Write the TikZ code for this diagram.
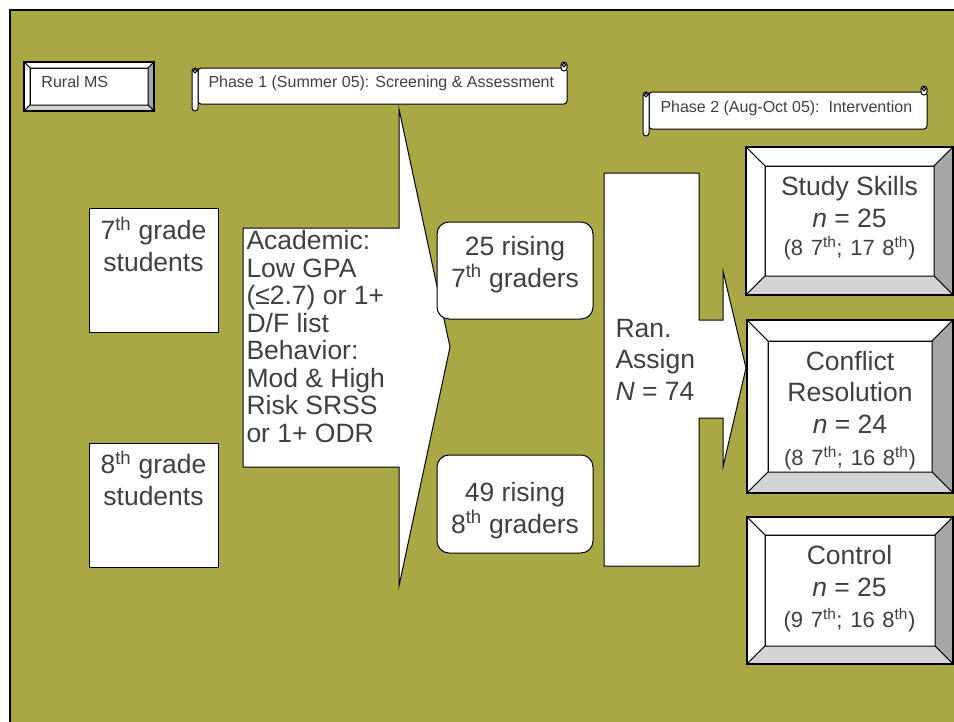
\documentclass[tikz,border=0pt]{standalone}
\usepackage{fontspec}
\setmainfont{Liberation Sans}
\usepackage{tikz}

\definecolor{olivebg}{RGB}{170,168,68}
\definecolor{txtgray}{RGB}{64,64,64}
\definecolor{bevelright}{RGB}{166,166,166}
\definecolor{bevelbottom}{RGB}{212,212,212}

\newcommand{\ordsup}[1]{\textsuperscript{#1}}
\newcommand{\wsp}{\hspace{0.35em}}

% bevel box: x1,y1 (top left), x2,y2 (bottom right), bevel width
\newcommand{\bevelbox}[5]{
  \draw[fill=white] (#1+#5,#2+#5) rectangle (#3-#5,#4-#5);
  \draw[fill=white] (#1,#2) -- (#3,#2) -- (#3-#5,#2+#5) -- (#1+#5,#2+#5) -- cycle;
  \draw[fill=white] (#1,#2) -- (#1+#5,#2+#5) -- (#1+#5,#4-#5) -- (#1,#4) -- cycle;
  \draw[fill=bevelright] (#3,#2) -- (#3,#4) -- (#3-#5,#4-#5) -- (#3-#5,#2+#5) -- cycle;
  \draw[fill=bevelbottom] (#1,#4) -- (#3,#4) -- (#3-#5,#4-#5) -- (#1+#5,#4-#5) -- cycle;
  \draw[line width=1.3pt] (#1,#2) rectangle (#3,#4);
}

% horizontal scroll: x1,y1 (top left), x2,y2 (bottom right of body)
\newcommand{\hscroll}[4]{
  \draw[fill=white,rounded corners=3] (#1+6,#2) rectangle (#3,#4);
  \draw[fill=white,rounded corners=3] (#3-6,#2-6) rectangle (#3,#2+3);
  \draw (#3-3,#2-3) circle (1.8);
  \draw[fill=white,rounded corners=3] (#1,#2) rectangle (#1+6,#4+7);
  \draw (#1+3,#2+3) circle (1.8);
}

\tikzset{
  bigtext/.style={text=txtgray,font=\fontsize{26.5}{31.5}\selectfont,inner sep=0pt},
  smalltext/.style={text=txtgray,font=\fontsize{16}{19}\selectfont,inner sep=0pt},
  counttext/.style={text=txtgray,font=\fontsize{22}{24}\selectfont,inner sep=0pt}
}

\begin{document}
\begin{tikzpicture}[x=1pt,y=-1pt,line width=1pt]
      \useasboundingbox (0,0) rectangle (954,721);
      \clip (0,0) rectangle (954,721);
      \fill[white] (0,0) rectangle (954,721);
      \draw[fill=olivebg,line width=1.3pt] (10,10) rectangle (980,760);

      % labels at the top
      \bevelbox{24}{62}{154}{111}{6}
      \node[smalltext,anchor=base west] (rural) at (41,87) {Rural MS};

      \hscroll{192}{68}{567}{104}
      \node[smalltext,anchor=base west] (phaseone) at (208,87) {Phase 1 (Summer 05): Screening \& Assessment};

      \hscroll{643}{92}{927}{129}
      \node[smalltext,anchor=base west] (phasetwo) at (660,112) {Phase 2 (Aug-Oct 05):\ \ Intervention};

      % grade boxes (base = last line)
      \draw[fill=white] (89,208) rectangle (218,332);
      \node[bigtext,anchor=base,align=center] (seventh) at (153.5,271) {7\ordsup{th} grade\\students};

      \draw[fill=white] (89,443) rectangle (218,567);
      \node[bigtext,anchor=base,align=center] (eighth) at (153.5,505) {8\ordsup{th} grade\\students};

      % screening arrow
      \draw[fill=white] (243,228) -- (399,228) -- (399,109) -- (450,347) -- (399,586)
        -- (399,467) -- (243,467) -- cycle;
      \node[bigtext,anchor=base west,align=left,font=\fontsize{26.5}{27.5}\selectfont] (criteria) at (246,442)
        {Academic:\\Low GPA\\(≤2.7) or 1+\\D/F list\\Behavior:\\Mod \& High\\Risk SRSS\\or 1+ ODR};

      % rising graders
      \draw[fill=white,rounded corners=12] (437,222) rectangle (593,319);
      \node[bigtext,anchor=base,align=center] (risingseven) at (515,287) {25 rising\\7\ordsup{th} graders};

      \draw[fill=white,rounded corners=12] (437,455) rectangle (593,553);
      \node[bigtext,anchor=base,align=center] (risingeight) at (515,533) {49 rising\\8\ordsup{th} graders};

      % random assignment arrow
      \draw[fill=white] (604,173) -- (699,173) -- (699,320) -- (723,320) -- (723,271) -- (746,368)
        -- (723,467) -- (723,418) -- (699,418) -- (699,566) -- (604,566) -- cycle;
      \node[bigtext,anchor=base west,align=left] (assign) at (615,400) {Ran.\\Assign\\\textit{N} = 74};

      % intervention groups
      \bevelbox{746}{147}{953}{295}{19}
      \node[bigtext,anchor=base,align=center] (study) at (849.5,227) {Study Skills\\\textit{n} = 25};
      \node[counttext,anchor=base] (studycount) at (849.5,255) {(8\wsp 7\ordsup{th};\wsp 17\wsp 8\ordsup{th})};

      \bevelbox{747}{320}{953}{493}{21}
      \node[bigtext,anchor=base,align=center] (conflict) at (850,433) {Conflict\\Resolution\\\textit{n} = 24};
      \node[counttext,anchor=base] (conflictcount) at (850,465) {(8\wsp 7\ordsup{th};\wsp 16\wsp 8\ordsup{th})};

      \bevelbox{747}{517}{953}{664}{18}
      \node[bigtext,anchor=base,align=center] (control) at (849.5,596) {Control\\\textit{n} = 25};
      \node[counttext,anchor=base] (controlcount) at (849.5,627) {(9\wsp 7\ordsup{th};\wsp 16\wsp 8\ordsup{th})};

  \end{tikzpicture}
\end{document}
